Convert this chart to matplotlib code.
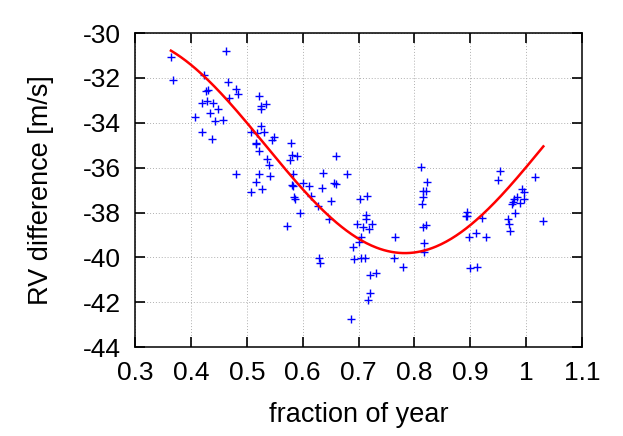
import numpy as np
import matplotlib
matplotlib.use("Agg")
import matplotlib.pyplot as plt

# measured RV differences (fraction of year, m/s)
frac_year = [
    0.364, 0.367, 0.424, 0.463, 0.466, 0.481, 0.484, 0.427, 0.431, 0.468,
    0.420, 0.429, 0.439, 0.449, 0.434, 0.407, 0.443, 0.457, 0.420, 0.437,
    0.521, 0.525, 0.526, 0.534, 0.526, 0.508, 0.519, 0.530, 0.517, 0.516,
    0.548, 0.545, 0.522, 0.536, 0.539, 0.579, 0.581, 0.590, 0.577, 0.480,
    0.521, 0.516, 0.508, 0.528, 0.542, 0.583, 0.659, 0.637, 0.680, 0.600,
    0.581, 0.583, 0.612, 0.656, 0.660, 0.634, 0.585, 0.586, 0.614, 0.651,
    0.703, 0.716, 0.595, 0.628, 0.647, 0.713, 0.714, 0.572, 0.698, 0.708,
    0.719, 0.725, 0.705, 0.701, 0.690, 0.630, 0.631, 0.692, 0.705, 0.711,
    0.721, 0.732, 0.720, 0.717, 0.687, 0.766, 0.764, 0.779, 0.811, 0.823,
    0.815, 0.821, 0.816, 0.813, 0.815, 0.821, 0.818, 0.818, 0.895, 0.892,
    0.895, 0.922, 0.897, 0.911, 0.928, 0.900, 0.912, 0.953, 0.950, 1.016,
    1.031, 0.993, 0.997, 0.984, 0.978, 0.997, 0.976, 0.975, 0.990, 0.981,
    0.967, 0.969, 0.971,
]
rv_diff = [
    -31.06, -32.11, -31.86, -30.79, -32.20, -32.50, -32.71, -32.57, -32.53, -32.90,
    -33.10, -33.03, -33.10, -33.39, -33.54, -33.75, -33.93, -33.88, -34.39, -34.71,
    -32.80, -33.26, -33.38, -33.15, -34.13, -34.39, -34.46, -34.43, -34.88, -34.94,
    -34.65, -34.76, -35.25, -35.62, -35.87, -34.88, -35.45, -35.50, -35.66, -36.28,
    -36.28, -36.65, -37.09, -36.94, -36.35, -36.28, -35.50, -36.24, -36.28, -36.68,
    -36.77, -36.82, -36.83, -36.68, -36.74, -36.91, -37.30, -37.41, -37.28, -37.50,
    -37.40, -37.26, -38.01, -37.73, -38.27, -38.10, -38.31, -38.60, -38.52, -38.63,
    -38.73, -38.51, -39.10, -39.30, -39.52, -40.04, -40.26, -40.08, -40.01, -40.04,
    -40.77, -40.69, -41.60, -41.90, -42.73, -39.07, -40.04, -40.43, -35.95, -36.66,
    -37.02, -37.02, -37.31, -37.62, -38.63, -38.56, -39.37, -39.74, -37.96, -38.15,
    -38.17, -38.25, -39.10, -38.92, -39.10, -40.48, -40.41, -36.13, -36.57, -36.40,
    -38.40, -36.93, -37.10, -37.33, -37.40, -37.40, -37.54, -37.62, -37.56, -38.01,
    -38.27, -38.51, -38.81,
]

# annual sinusoid fit: offset, amplitude, phase of minimum
fit_offset = -34.99
fit_amplitude = 4.82
fit_min_phase = 0.783
fit_range = (0.364, 1.031)

xticks = [0.3, 0.4, 0.5, 0.6, 0.7, 0.8, 0.9, 1.0, 1.1]
xticklabels = ["0.3", "0.4", "0.5", "0.6", "0.7", "0.8", "0.9", "1", "1.1"]
yticks = [-44, -42, -40, -38, -36, -34, -32, -30]

plt.rcParams['font.family'] = ['Liberation Sans', 'DejaVu Sans']
plt.rcParams['axes.unicode_minus'] = False

fig = plt.figure(figsize=(6.23, 4.36), dpi=100)
ax = fig.add_axes([0.217, 0.204, 0.717, 0.720])

ax.plot(frac_year, rv_diff, '+', color='#0000ff', markersize=5.5, markeredgewidth=1.0)

xf = np.linspace(fit_range[0], fit_range[1], 300)
yf = fit_offset - fit_amplitude * np.cos(2 * np.pi * (xf - fit_min_phase))
ax.plot(xf, yf, '-', color='#ff0000', lw=1.8)

ax.set_xlim(0.3, 1.1)
ax.set_ylim(-44, -30)
ax.set_xticks(xticks)
ax.set_xticklabels(xticklabels)
ax.set_yticks(yticks)
ax.grid(True, color='#b0b0b0', linestyle=(0, (1, 2)), lw=0.7)
ax.tick_params(direction='in', length=7, width=1.2, top=True, right=True,
               labelsize=19, pad=10)
for s in ax.spines.values():
    s.set_linewidth(1.1)

ax.set_xlabel('fraction of year', fontsize=19.5, labelpad=12)
ax.set_ylabel('RV difference [m/s]', fontsize=19.5, labelpad=21)

fig.savefig('out.png', dpi=100)
